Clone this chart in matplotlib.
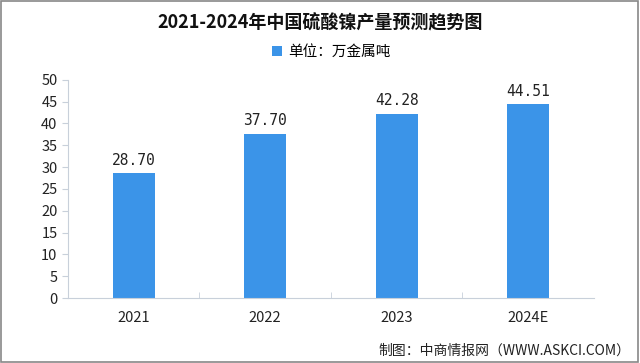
import matplotlib
matplotlib.use("Agg")
import matplotlib.pyplot as plt
from matplotlib.patches import Rectangle

plt.rcParams['font.family'] = ['Noto Sans CJK SC', 'DejaVu Sans']

years = ["2021", "2022", "2023", "2024E"]
output = [28.70, 37.70, 42.28, 44.51]
yticks = [0, 5, 10, 15, 20, 25, 30, 35, 40, 45, 50]

bar_color = "#3b94e8"
axis_color = "#c8d0da"

fig = plt.figure(figsize=(6.4, 3.63), dpi=100)
ax = fig.add_axes([0.106, 0.179, 0.822, 0.601])

x = list(range(len(years)))
ax.bar(x, output, width=0.32, color=bar_color, label="单位：万金属吨", zorder=2)
for xi, v in zip(x, output):
    ax.text(xi, v + 1.2, f"{v:.2f}", ha="center", va="bottom", fontsize=10.5,
            color="#222222", family=["DejaVu Sans Mono"])

ax.set_xlim(-0.5, len(years) - 0.5)
ax.set_ylim(0, 50)
ax.set_yticks(yticks)
ax.set_xticks(x)
ax.set_xticklabels(years, fontsize=10.5, color="#222222")
ax.tick_params(axis="y", labelsize=10.5, colors="#222222", length=4, color=axis_color)
ax.tick_params(axis="x", length=0, pad=9)
# category boundary ticks on the x axis
ax.set_xticks([i + 0.5 for i in range(len(years) - 1)], minor=True)
ax.tick_params(axis="x", which="minor", length=4, color=axis_color, direction="in")

for side in ["top", "right"]:
    ax.spines[side].set_visible(False)
for side in ["left", "bottom"]:
    ax.spines[side].set_color(axis_color)

fig.text(0.5, 0.938, "2021-2024年中国硫酸镍产量预测趋势图", ha="center", va="center",
         fontsize=13, fontweight="bold", color="#111111")
ax.legend(loc="upper center", bbox_to_anchor=(0.5, 1.22), frameon=False,
          fontsize=10.5, handlelength=0.7, handleheight=0.7, handletextpad=0.4)
fig.text(0.985, 0.035, "制图：中商情报网（WWW.ASKCI.COM）", ha="right", va="center",
         fontsize=10, color="#222222")

fig.patches.append(Rectangle((0.002, 0.004), 0.995, 0.992, transform=fig.transFigure,
                             fill=False, edgecolor="#888888", linewidth=1.2))

fig.savefig("out.png", dpi=100)
